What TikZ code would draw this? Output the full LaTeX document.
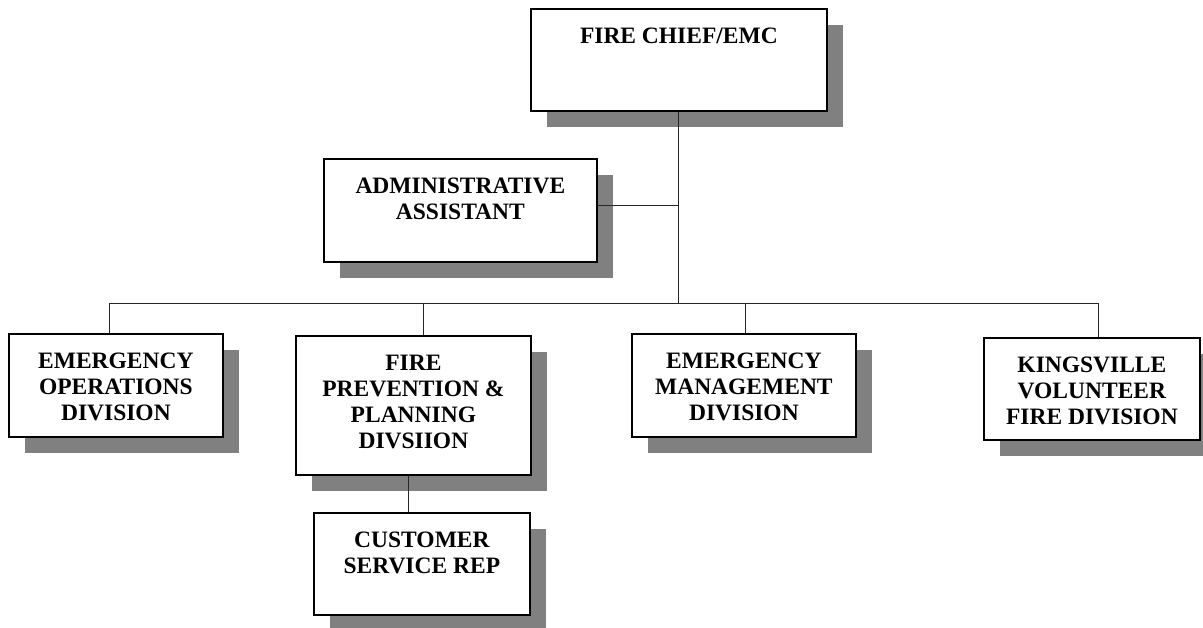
\documentclass[tikz,border=0pt]{standalone}
\usepackage{fontspec}
\setmainfont{Liberation Serif}
\usetikzlibrary{shadows}
\definecolor{shadowgray}{HTML}{808080}
\tikzset{
  orgbox/.style={draw=black, line width=1.8pt, fill=white, inner sep=0pt, anchor=north west,
    drop shadow={shadow xshift=16.5pt, shadow yshift=-16.5pt, fill=shadowgray, opacity=1}},
  link/.style={draw=black!85, line width=1pt}
}
\newcommand\orgtext[3]{\parbox[t][#2][t]{#1}{\centering\vspace*{19pt}\fontsize{23.5}{26}\selectfont\bfseries #3\par}}
\begin{document}
\begin{tikzpicture}[x=1pt,y=1pt]
\useasboundingbox (0,0) rectangle (1203,-627);
\node[orgbox] (chief) at (530,-8) {\orgtext{296pt}{102pt}{FIRE CHIEF/EMC}};
\node[orgbox] (admin) at (323,-158) {\orgtext{273pt}{103pt}{ADMINISTRATIVE\\ASSISTANT}};
\node[orgbox] (eo) at (8,-333) {\orgtext{214pt}{103pt}{EMERGENCY\\OPERATIONS\\DIVISION}};
\node[orgbox] (fp) at (295,-335) {\orgtext{235pt}{139pt}{FIRE\\PREVENTION \&\\PLANNING\\DIVSIION}};
\node[orgbox] (em) at (631,-333) {\orgtext{224pt}{103pt}{EMERGENCY\\MANAGEMENT\\DIVISION}};
\node[orgbox] (kv) at (983,-337) {\orgtext{216pt}{102pt}{KINGSVILLE\\VOLUNTEER\\FIRE DIVISION}};
\node[orgbox] (cs) at (313,-512) {\orgtext{216pt}{102pt}{CUSTOMER\\SERVICE REP}};
\coordinate (busL) at (109,-303);
\coordinate (busR) at (1098,-303);
\coordinate (fpin) at (423,-303);
\coordinate (emin) at (745,-303);
\coordinate (adminlink) at (596,-205);
\coordinate (fpout) at (408,-493);
\draw[link] (chief.south) -- (chief.south |- busL);
\draw[link] (admin.east |- adminlink) -- (chief.south |- adminlink);
\draw[link] (busL) -- (busR);
\draw[link] (busL) -- (busL |- eo.north);
\draw[link] (fpin) -- (fpin |- fp.north);
\draw[link] (emin) -- (emin |- em.north);
\draw[link] (busR) -- (busR |- kv.north);
\draw[link] (fpout |- fp.south) -- (fpout |- cs.north);
\end{tikzpicture}
\end{document}
